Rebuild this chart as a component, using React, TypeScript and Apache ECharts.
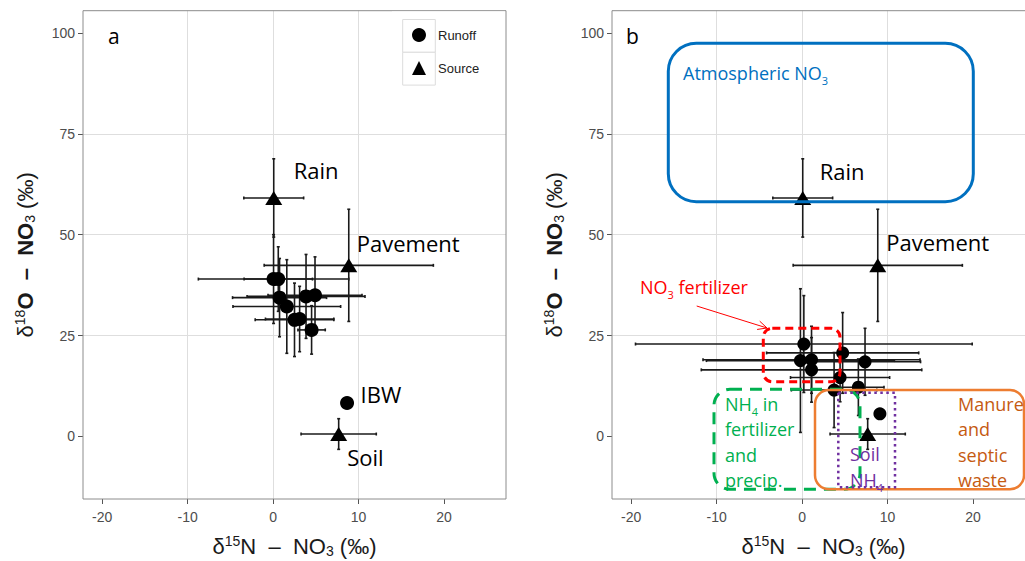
import React, { useEffect, useRef } from "react";
import * as echarts from "echarts";

// ---------- data ----------
// runoff means, panel a: [d15N, d18O, sd d15N, sd d18O]
const runoffA: number[][] = [
  [0.05, 39.0, 8.8, 11.0],
  [0.6, 39.0, 4.0, 8.0],
  [0.75, 34.4, 5.5, 9.7],
  [1.6, 32.2, 6.3, 11.6],
  [2.5, 28.9, 4.6, 9.1],
  [3.1, 29.1, 4.0, 8.1],
  [3.85, 34.7, 6.9, 10.4],
  [4.9, 35.0, 5.5, 9.5],
  [4.5, 26.4, 1.6, 6.0],
];
const ibwA: number[] = [8.65, 8.3];
// runoff means, panel b
const runoffB: number[][] = [
  [0.2, 22.9, 19.7, 12.0],
  [-0.2, 18.8, 11.0, 17.8],
  [1.1, 19.0, 12.7, 8.3],
  [1.1, 16.5, 12.9, 8.0],
  [4.74, 20.7, 8.9, 10.0],
  [7.36, 18.5, 6.5, 8.3],
  [4.44, 14.6, 5.8, 6.0],
  [3.74, 11.5, 5.0, 9.3],
  [6.58, 12.2, 3.0, 7.0],
  [9.1, 5.6, 0, 0],
];
// sources (same in both panels)
const sourceNames = ["Rain", "Pavement", "Soil"];
const sourceN = [0.07, 8.85, 7.67];
const sourceO = [59.1, 42.4, 0.6];
const sourceNErr = [3.5, 9.9, 4.4];
const sourceOErr = [9.7, 13.9, 3.8];

const xTicks = [-20, -10, 0, 10, 20];
const yTicks = [0, 25, 50, 75, 100];
const X_MIN = -22.25, X_MAX = 27.25;
const Y_MIN = -15.5, Y_MAX = 105.5;

// ---------- layout ----------
const GA = { left: 83, top: 10.7, width: 423, height: 488.3 };
const GB = { left: 612, top: 10.7, width: 423, height: 488.3 };
const AX_FONT = "Liberation Sans";
const LBL_FONT = "Open Sans";

const labelOffA: Record<string, number[]> = { Rain: [20, -27.5], Pavement: [8, -22.6], Soil: [8.5, 22.7], IBW: [13.5, -8.7] };
const labelOffB: Record<string, number[]> = { Rain: [17, -27.2], Pavement: [8.5, -23] };

const nameRich = {
  d: { fontSize: 22, fontFamily: AX_FONT, color: "#1a1a1a", lineHeight: 24, verticalAlign: "middle" },
  b: { fontSize: 22, fontFamily: AX_FONT, fontWeight: "bold", color: "#1a1a1a", lineHeight: 24, verticalAlign: "middle" },
  sup: { fontSize: 14, fontFamily: AX_FONT, color: "#1a1a1a", lineHeight: 12, verticalAlign: "top" },
  sub: { fontSize: 14, fontFamily: AX_FONT, color: "#1a1a1a", lineHeight: 12, verticalAlign: "bottom" },
};
const xName = "{d|δ}{sup|15}{d|N  –  NO}{sub|3}{d| (‰)}";
const yName = "{d|δ}{sup|18}{b|O  –  NO}{sub|3}{d| (‰)}";

function xAxis(gi: number) {
  return {
    type: "value", gridIndex: gi, min: X_MIN, max: X_MAX, minInterval: 10, maxInterval: 10,
    axisLine: { show: false, onZero: false },
    axisTick: { show: true, length: 5, customValues: xTicks, lineStyle: { color: "#555", width: 1 } },
    axisLabel: { customValues: xTicks, margin: 11, fontSize: 14, color: "#4d4d4d", fontFamily: AX_FONT },
    splitLine: { show: true, showMinLine: false, showMaxLine: false, lineStyle: { color: "#dedede", width: 1 } },
    name: xName, nameLocation: "middle", nameGap: 35,
    nameTextStyle: { rich: nameRich },
  };
}
function yAxis(gi: number) {
  return {
    type: "value", gridIndex: gi, min: Y_MIN, max: Y_MAX, minInterval: 25, maxInterval: 25,
    axisLine: { show: false, onZero: false },
    axisTick: { show: true, length: 5, customValues: yTicks, lineStyle: { color: "#555", width: 1 } },
    axisLabel: { customValues: yTicks, margin: 8, fontSize: 14, color: "#4d4d4d", fontFamily: AX_FONT },
    splitLine: { show: true, showMinLine: false, showMaxLine: false, lineStyle: { color: "#dedede", width: 1 } },
    name: yName, nameLocation: "middle", nameGap: 46, nameRotate: 90,
    nameTextStyle: { rich: nameRich },
  };
}

function errSeries(name: string, rows: number[][], gi: number) {
  return {
    type: "custom", name, xAxisIndex: gi, yAxisIndex: gi, silent: true, z: 2,
    data: rows,
    encode: { x: 0, y: 1 },
    renderItem: (_p: any, api: any) => {
      const x = api.value(0), y = api.value(1), ex = api.value(2), ey = api.value(3);
      const c = api.coord([x, y]);
      const l = api.coord([x - ex, y]);
      const r = api.coord([x + ex, y]);
      const t = api.coord([x, y + ey]);
      const b = api.coord([x, y - ey]);
      const style = { stroke: "#1a1a1a", lineWidth: 1.6 };
      const cap = 1.5;
      const children: any[] = [];
      if (ex > 0) {
        children.push({ type: "line", shape: { x1: l[0], y1: c[1], x2: r[0], y2: c[1] }, style });
        children.push({ type: "line", shape: { x1: l[0], y1: c[1] - cap, x2: l[0], y2: c[1] + cap }, style });
        children.push({ type: "line", shape: { x1: r[0], y1: c[1] - cap, x2: r[0], y2: c[1] + cap }, style });
      }
      if (ey > 0) {
        children.push({ type: "line", shape: { x1: c[0], y1: t[1], x2: c[0], y2: b[1] }, style });
        children.push({ type: "line", shape: { x1: c[0] - cap, y1: t[1], x2: c[0] + cap, y2: t[1] }, style });
        children.push({ type: "line", shape: { x1: c[0] - cap, y1: b[1], x2: c[0] + cap, y2: b[1] }, style });
      }
      return { type: "group", children };
    },
  };
}

function ptLabel(off: number[]) {
  return {
    show: true, position: "inside", align: "left", verticalAlign: "middle", offset: off,
    formatter: "{b}", fontSize: 22, fontFamily: LBL_FONT, color: "#000",
  };
}

function sourceData(offs: Record<string, number[]>) {
  return sourceNames.map((n, i) => ({
    name: n,
    value: [sourceN[i], sourceO[i]],
    label: offs[n] ? ptLabel(offs[n]) : { show: false },
  }));
}
function sourceErrRows() {
  return sourceNames.map((_n, i) => [sourceN[i], sourceO[i], sourceNErr[i], sourceOErr[i]]);
}

const annoRich = (color: string) => ({
  t: { fontSize: 18, fontFamily: LBL_FONT, lineHeight: 25.5, verticalAlign: "middle", fill: color },
  s: { fontSize: 11, fontFamily: LBL_FONT, lineHeight: 11, verticalAlign: "bottom", fill: color },
});

function annoText(x: number, y: number, text: string, color: string, va = "middle") {
  return {
    type: "text", x, y, z: 6, silent: true,
    style: { text, fill: color, align: "left", verticalAlign: va, fontSize: 18, fontFamily: LBL_FONT, rich: annoRich(color) },
  };
}

function buildGraphics() {
  const g: any[] = [];
  // panel borders
  [GA, GB].forEach((p) => {
    g.push({ type: "rect", z: 3, silent: true, shape: { x: p.left, y: p.top, width: p.width, height: p.height }, style: { fill: "none", stroke: "#8c8c8c", lineWidth: 1 } });
  });
  // legend background + key boxes (panel a)
  g.push({ type: "rect", z: 3, z2: 0, silent: true, shape: { x: 392, y: 11.5, width: 113, height: 86 }, style: { fill: "#fff" } });
  g.push({ type: "rect", z: 3, z2: 1, silent: true, shape: { x: 402.7, y: 19.5, width: 32.6, height: 32.8 }, style: { fill: "#fff", stroke: "#dcdcdc", lineWidth: 1 } });
  g.push({ type: "rect", z: 3, z2: 1, silent: true, shape: { x: 402.7, y: 52.3, width: 32.6, height: 32.8 }, style: { fill: "#fff", stroke: "#dcdcdc", lineWidth: 1 } });
  // panel letters
  g.push({ type: "text", x: 108, y: 36, z: 6, silent: true, style: { text: "a", fill: "#000", fontSize: 21, fontFamily: LBL_FONT, align: "left", verticalAlign: "middle" } });
  g.push({ type: "text", x: 626, y: 36, z: 6, silent: true, style: { text: "b", fill: "#000", fontSize: 21, fontFamily: LBL_FONT, align: "left", verticalAlign: "middle" } });

  // panel b annotations
  const blue = "#0070C0", red = "#FF0000", green = "#00B050", orange = "#ED7D31", orangeTxt = "#C55A11", purple = "#7030A0";
  g.push({ type: "rect", z: 5, silent: true, shape: { x: 668.3, y: 43.3, width: 305, height: 158.4, r: 28 }, style: { fill: "none", stroke: blue, lineWidth: 3 } });
  g.push(annoText(683, 73.3, "{t|Atmospheric NO}{s|3}", blue));

  g.push({ type: "rect", z: 5, silent: true, shape: { x: 763.3, y: 328.3, width: 76.7, height: 53.4, r: 9 }, style: { fill: "none", stroke: red, lineWidth: 3, lineDash: [8, 5] } });
  g.push(annoText(640, 287.3, "{t|NO}{s|3}{t| fertilizer}", red));
  const ax1 = 696.7, ay1 = 306, ax2 = 767, ay2 = 328;
  const ang = Math.atan2(ay2 - ay1, ax2 - ax1);
  g.push({ type: "line", z: 5, silent: true, shape: { x1: ax1, y1: ay1, x2: ax2, y2: ay2 }, style: { stroke: red, lineWidth: 1 } });
  g.push({
    type: "polyline", z: 5, silent: true,
    shape: { points: [[ax2 - 10 * Math.cos(ang - 0.45), ay2 - 10 * Math.sin(ang - 0.45)], [ax2, ay2], [ax2 - 10 * Math.cos(ang + 0.45), ay2 - 10 * Math.sin(ang + 0.45)]] },
    style: { stroke: red, lineWidth: 1, fill: "none" },
  });

  g.push({ type: "rect", z: 5, silent: true, shape: { x: 714, y: 389.3, width: 146, height: 100, r: 16 }, style: { fill: "none", stroke: green, lineWidth: 3, lineDash: [12, 8] } });
  g.push(annoText(725, 391.2, "{t|NH}{s|4}{t| in}\n{t|fertilizer}\n{t|and}\n{t|precip.}", green, "top"));

  g.push({ type: "rect", z: 5, silent: true, shape: { x: 815, y: 390, width: 209, height: 99.3, r: 14 }, style: { fill: "none", stroke: orange, lineWidth: 2.5 } });
  g.push(annoText(958, 391.2, "{t|Manure}\n{t|and}\n{t|septic}\n{t|waste}", orangeTxt, "top"));

  g.push({ type: "rect", z: 5, silent: true, shape: { x: 838.3, y: 392.7, width: 56.7, height: 94.6 }, style: { fill: "none", stroke: purple, lineWidth: 2.5, lineDash: [2.5, 3.5] } });
  g.push(annoText(850, 441.7, "{t|Soil}\n{t|NH}{s|4}", purple, "top"));
  return g;
}

export default function App() {
  const ref = useRef<HTMLDivElement>(null);
  useEffect(() => {
    if (!ref.current) return;
    const chart = echarts.init(ref.current, null, { renderer: "svg" });
    const option: any = {
      animation: false,
      backgroundColor: "#fff",
      grid: [
        { ...GA, show: false, outerBoundsMode: "none", containLabel: false },
        { ...GB, show: false, outerBoundsMode: "none", containLabel: false },
      ],
      xAxis: [xAxis(0), xAxis(1)],
      yAxis: [yAxis(0), yAxis(1)],
      legend: {
        show: true, orient: "vertical", left: 412, top: 28, itemWidth: 14, itemHeight: 14, itemGap: 19, padding: 0,
        selectedMode: false, z: 4,
        data: [{ name: "Runoff", icon: "circle" }, { name: "Source", icon: "triangle" }],
        textStyle: { fontSize: 13, color: "#222", fontFamily: AX_FONT, padding: [0, 0, 0, 7] },
      },
      series: [
        errSeries("Runoff error a", runoffA, 0),
        errSeries("Source error a", sourceErrRows(), 0),
        errSeries("Runoff error b", runoffB, 1),
        errSeries("Source error b", sourceErrRows(), 1),
        {
          type: "scatter", name: "Runoff", xAxisIndex: 0, yAxisIndex: 0, symbol: "circle", symbolSize: 14, z: 3,
          itemStyle: { color: "#000", opacity: 1 },
          data: [
            ...runoffA.map((d) => ({ value: [d[0], d[1]] })),
            { name: "IBW", value: [ibwA[0], ibwA[1]], label: ptLabel(labelOffA.IBW) },
          ],
        },
        {
          type: "scatter", name: "Source", xAxisIndex: 0, yAxisIndex: 0, symbol: "triangle", symbolSize: [17, 14], z: 3,
          itemStyle: { color: "#000", opacity: 1 },
          data: sourceData(labelOffA),
        },
        {
          type: "scatter", name: "Runoff", xAxisIndex: 1, yAxisIndex: 1, symbol: "circle", symbolSize: 13, z: 3,
          itemStyle: { color: "#000", opacity: 1 },
          data: runoffB.map((d) => ({ value: [d[0], d[1]] })),
        },
        {
          type: "scatter", name: "Source", xAxisIndex: 1, yAxisIndex: 1, symbol: "triangle", symbolSize: [17, 14], z: 3,
          itemStyle: { color: "#000", opacity: 1 },
          data: sourceData(labelOffB),
        },
      ],
      graphic: { elements: buildGraphics() },
    };
    chart.setOption(option);
    return () => chart.dispose();
  }, []);
  return <div ref={ref} style={{ position: "absolute", left: 0, top: 0, width: 1025, height: 561 }} />;
}
